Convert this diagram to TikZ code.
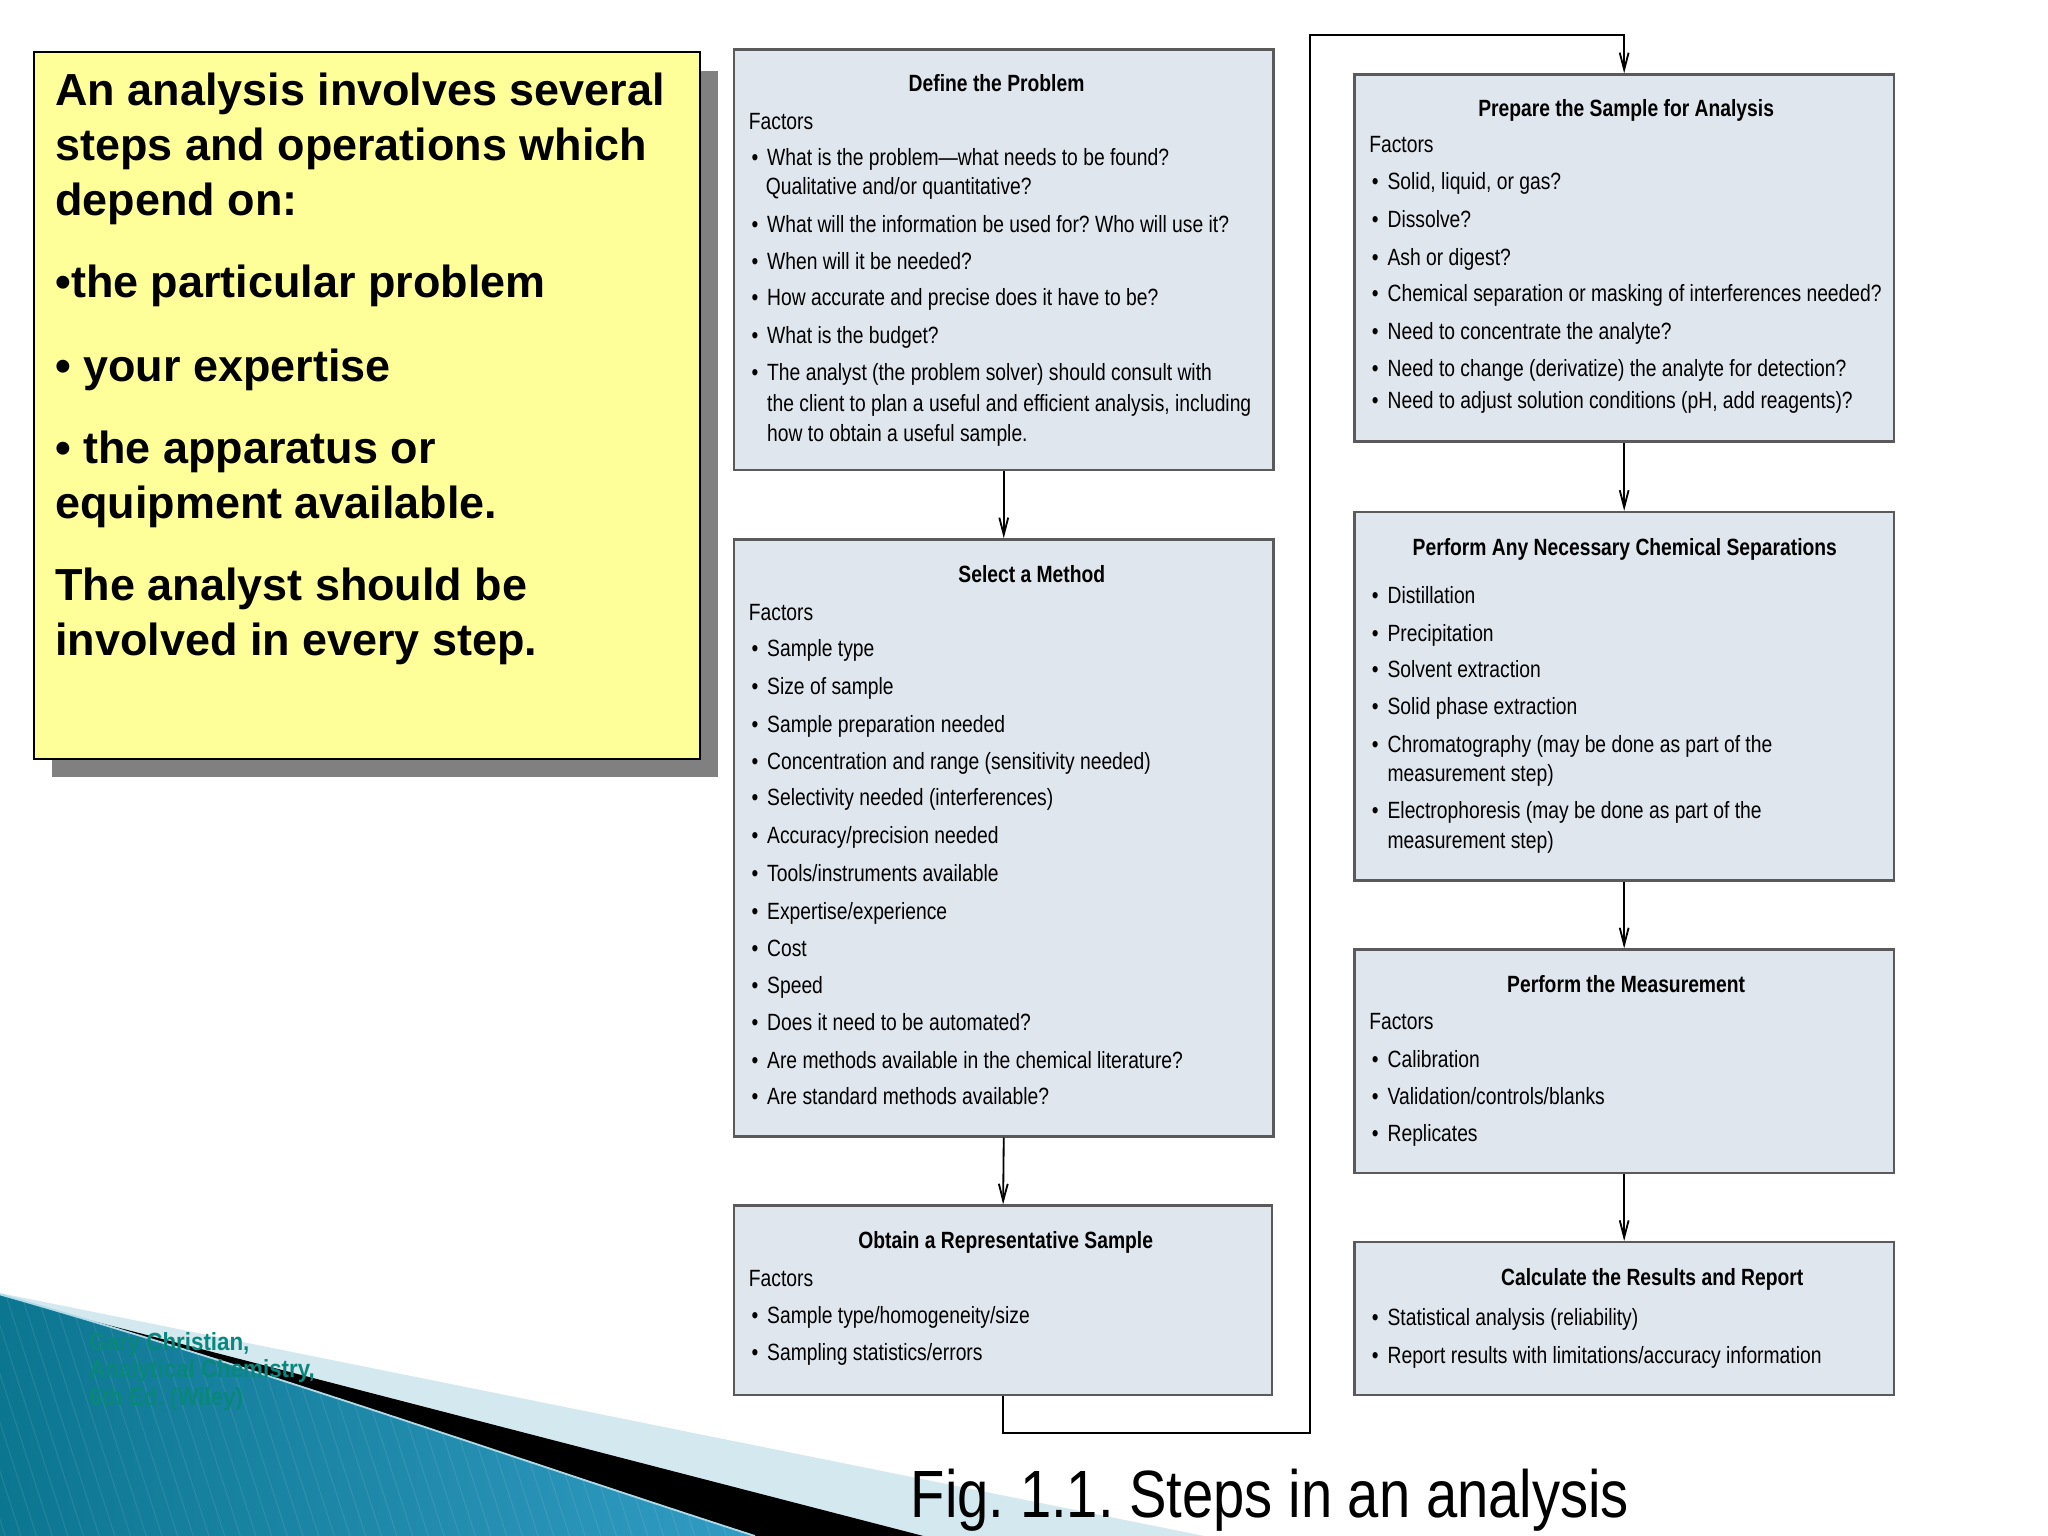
\documentclass[tikz,border=0pt]{standalone}
\usepackage{fontspec}
\setmainfont{Liberation Sans}
\newfontfamily\cond[FakeStretch=0.82]{Liberation Sans}
\newfontfamily\capfont[FakeStretch=0.84]{Liberation Sans}
\newfontfamily\credfont[FakeStretch=0.9]{Liberation Sans}
\usetikzlibrary{arrows.meta,fit}
\definecolor{boxfill}{RGB}{224,230,238}
\definecolor{boxline}{RGB}{90,90,90}
\definecolor{notefill}{RGB}{255,255,153}
\definecolor{shadowgray}{RGB}{128,128,128}
\definecolor{credteal}{RGB}{10,135,125}
\definecolor{bandlight}{RGB}{212,232,240}
\definecolor{bluedark}{RGB}{12,118,145}
\definecolor{bluelight}{RGB}{78,178,212}
\definecolor{blueright}{RGB}{50,155,195}
\definecolor{bluehi}{RGB}{175,218,232}
\newcommand\bi{\makebox[6pt][l]{\textbullet}}
\frenchspacing
\begin{document}
\frenchspacing
\begin{tikzpicture}[x=0.5pt,y=-0.5pt,
  stepbox/.style={draw=boxline, fill=boxfill, line width=0.9pt, inner sep=0pt},
  body/.style={font=\cond\frenchspacing\fontsize{9}{11}\selectfont, anchor=base west, inner sep=0pt},
  ttl/.style={font=\cond\bfseries\fontsize{9}{11}\selectfont, anchor=base, inner sep=0pt},
  note/.style={font=\bfseries\fontsize{17.2}{21}\selectfont, anchor=base west, inner sep=0pt},
  cred/.style={font=\credfont\bfseries\frenchspacing\fontsize{9.5}{11}\selectfont, text=credteal, anchor=base west, inner sep=0pt},
  conn/.style={line width=0.7pt, -{Straight Barb[length=6.5pt,width=3.4pt]}}]
\useasboundingbox (0,0) rectangle (1568,1176);
\fill[white] (0,0) rectangle (1568,1176);

% ---- bottom-left decoration ----
\fill[bandlight] (0,990) -- (922,1176) -- (0,1176) -- cycle;
\fill[black] (0,993) -- (707,1176) -- (0,1176) -- cycle;
\shade[left color=bluedark, middle color=bluelight, right color=blueright]
  (0,991) .. controls (200,1048) and (380,1112) .. (578,1176) -- (0,1176) -- cycle;
\begin{scope}
  \clip (0,991) .. controls (200,1048) and (380,1112) .. (578,1176) -- (0,1176) -- cycle;
  \foreach \i in {-200,-188,...,600} {
    \draw[white, opacity=0.09, line width=0.4pt] (\i,990) -- (\i+60,1176);
  }
\end{scope}
\draw[bluehi, line width=0.7pt] (0,991) .. controls (200,1048) and (380,1112) .. (578,1176);

% ---- yellow note ----
\fill[shadowgray] (40,54) rectangle (550,595);
\node[draw=black, fill=notefill, line width=0.8pt, inner sep=0pt, fit={(26,40)(536,581)}] (note) {};
\node[note] (n1) at (42,81) {An analysis involves several};
\node[note] (n2) at (42,123) {steps and operations which};
\node[note] (n3) at (42,165) {depend on:};
\node[note] (n4) at (42,228) {•the particular problem};
\node[note] (n5) at (42,292) {• your expertise};
\node[note] (n6) at (42,355) {• the apparatus or};
\node[note] (n7) at (42,397) {equipment available.};
\node[note] (n8) at (42,460) {The analyst should be};
\node[note] (n9) at (42,502) {involved in every step.};

% ---- Define the Problem ----
\node[stepbox, fit={(562,38)(975,360)}] (A) {};
\node[ttl] (At) at (763,70) {Define the Problem};
\node[body] (Af) at (573,99) {Factors};
\node[body] (A1) at (575,127) {\bi What is the problem—what needs to be found?};
\node[body] (A1b) at (586,149) {Qualitative and/or quantitative?};
\node[body] (A2) at (575,178) {\bi What will the information be used for? Who will use it?};
\node[body] (A3) at (575,206) {\bi When will it be needed?};
\node[body] (A4) at (575,234) {\bi How accurate and precise does it have to be?};
\node[body] (A5) at (575,263) {\bi What is the budget?};
\node[body] (A6) at (575,291) {\bi The analyst (the problem solver) should consult with};
\node[body] (A6b) at (587,315) {the client to plan a useful and efficient analysis, including};
\node[body] (A6c) at (587,338) {how to obtain a useful sample.};

% ---- Select a Method ----
\node[stepbox, fit={(562,413)(975,870)}] (B) {};
\node[ttl] (Bt) at (790,446) {Select a Method};
\node[body] (Bf) at (573,475) {Factors};
\node[body] (B1) at (575,503) {\bi Sample type};
\node[body] (B2) at (575,532) {\bi Size of sample};
\node[body] (B3) at (575,561) {\bi Sample preparation needed};
\node[body] (B4) at (575,589) {\bi Concentration and range (sensitivity needed)};
\node[body] (B5) at (575,617) {\bi Selectivity needed (interferences)};
\node[body] (B6) at (575,646) {\bi Accuracy/precision needed};
\node[body] (B7) at (575,675) {\bi Tools/instruments available};
\node[body] (B8) at (575,704) {\bi Expertise/experience};
\node[body] (B9) at (575,732) {\bi Cost};
\node[body] (B10) at (575,761) {\bi Speed};
\node[body] (B11) at (575,789) {\bi Does it need to be automated?};
\node[body] (B12) at (575,818) {\bi Are methods available in the chemical literature?};
\node[body] (B13) at (575,846) {\bi Are standard methods available?};

% ---- Obtain a Representative Sample ----
\node[stepbox, fit={(562,923)(974,1068)}] (C) {};
\node[ttl] (Ct) at (770,956) {Obtain a Representative Sample};
\node[body] (Cf) at (573,985) {Factors};
\node[body] (C1) at (575,1013) {\bi Sample type/homogeneity/size};
\node[body] (C2) at (575,1042) {\bi Sampling statistics/errors};

% ---- Prepare the Sample for Analysis ----
\node[stepbox, fit={(1037,57)(1450,338)}] (D) {};
\node[ttl] (Dt) at (1245,89) {Prepare the Sample for Analysis};
\node[body] (Df) at (1048,117) {Factors};
\node[body] (D1) at (1050,145) {\bi Solid, liquid, or gas?};
\node[body] (D2) at (1050,174) {\bi Dissolve?};
\node[body] (D3) at (1050,203) {\bi Ash or digest?};
\node[body] (D4) at (1050,231) {\bi Chemical separation or masking of interferences needed?};
\node[body] (D5) at (1050,260) {\bi Need to concentrate the analyte?};
\node[body] (D6) at (1050,288) {\bi Need to change (derivatize) the analyte for detection?};
\node[body] (D7) at (1050,313) {\bi Need to adjust solution conditions (pH, add reagents)?};

% ---- Perform Any Necessary Chemical Separations ----
\node[stepbox, fit={(1037,392)(1450,674)}] (E) {};
\node[ttl] (Et) at (1244,425) {Perform Any Necessary Chemical Separations};
\node[body] (E1) at (1050,462) {\bi Distillation};
\node[body] (E2) at (1050,491) {\bi Precipitation};
\node[body] (E3) at (1050,519) {\bi Solvent extraction};
\node[body] (E4) at (1050,547) {\bi Solid phase extraction};
\node[body] (E5) at (1050,576) {\bi Chromatography (may be done as part of the};
\node[body] (E5b) at (1062,598) {measurement step)};
\node[body] (E6) at (1050,627) {\bi Electrophoresis (may be done as part of the};
\node[body] (E6b) at (1062,650) {measurement step)};

% ---- Perform the Measurement ----
\node[stepbox, fit={(1037,727)(1450,898)}] (F) {};
\node[ttl] (Ft) at (1245,760) {Perform the Measurement};
\node[body] (Ff) at (1048,788) {Factors};
\node[body] (F1) at (1050,817) {\bi Calibration};
\node[body] (F2) at (1050,846) {\bi Validation/controls/blanks};
\node[body] (F3) at (1050,874) {\bi Replicates};

% ---- Calculate the Results and Report ----
\node[stepbox, fit={(1037,951)(1450,1068)}] (G) {};
\node[ttl] (Gt) at (1265,984) {Calculate the Results and Report};
\node[body] (G1) at (1050,1015) {\bi Statistical analysis (reliability)};
\node[body] (G2) at (1050,1044) {\bi Report results with limitations/accuracy information};

% ---- connectors ----
\coordinate (L1) at (1003,1097);
\coordinate (L2) at (1003,27);
\draw[conn] (A.south) -- (B.north);
\draw[conn] (B.south) -- (C.north);
\draw[conn] (C.south) |- (L1) -- (L2) -| (D.north);
\draw[conn] (D.south) -- (E.north);
\draw[conn] (E.south) -- (F.north);
\draw[conn] (F.south) -- (G.north);

% ---- credit and caption ----
\node[cred] (cr1) at (68,1034) {Gary Christian,};
\node[cred] (cr2) at (68,1055) {Analytical Chemistry,};
\node[cred] (cr3) at (68,1076) {6th Ed. (Wiley)};
\node[font=\capfont\frenchspacing\fontsize{25.6}{30}\selectfont, anchor=base west, inner sep=0pt] (cap) at (697,1162) {Fig. 1.1. Steps in an analysis};
\end{tikzpicture}
\end{document}
